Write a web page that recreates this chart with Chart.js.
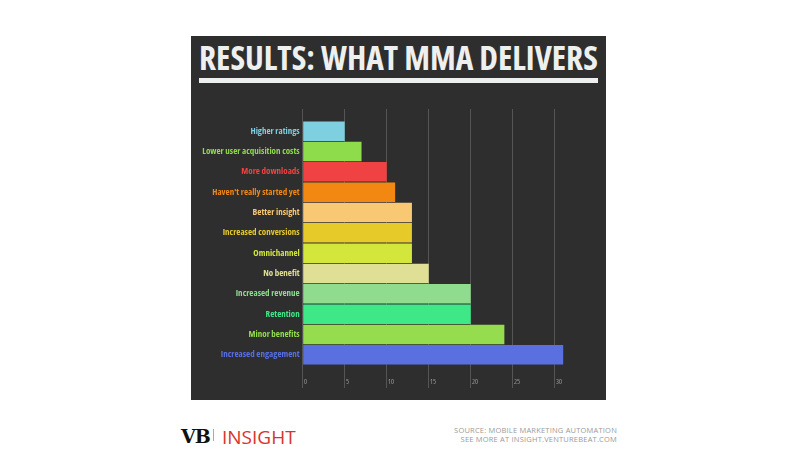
<!DOCTYPE html>
<html>
<head>
<meta charset="utf-8">
<script src="https://cdn.jsdelivr.net/npm/chart.js@4/dist/chart.umd.min.js"></script>
<style>
  body { margin: 0; background: #fff; width: 800px; height: 450px; position: relative; overflow: hidden; }
  #panel { position: absolute; left: 191px; top: 36px; width: 415px; height: 364px; background: #2e2e2e; }
  #title { position: absolute; left: 8px; top: -2px; white-space: nowrap; color: #eef0f0; line-height: 1;
    font: condensed bold 33.5px "DejaVu Sans", sans-serif; transform-origin: 0 0; }
  #rule { position: absolute; left: 8px; top: 42px; width: 399px; height: 5px; background: #eef0f0; }
  #wrap { position: absolute; left: 191px; top: 109px; width: 415px; height: 286px; }
  #vb { position: absolute; left: 181px; top: 425px; font: 900 19px "DejaVu Serif", serif; color: #111; letter-spacing: -1px; }
  #bar { position: absolute; left: 213px; top: 429px; width: 1px; height: 12px; background: #aaa; }
  #ins { position: absolute; left: 222px; top: 424px; font: 19px "Open Sans", sans-serif; color: #d8342c; }
  #src { position: absolute; right: 183px; top: 426px; text-align: right; color: #9a9a9a;
    font: 7.5px "Open Sans", sans-serif; line-height: 9px; letter-spacing: 0.2px; }
</style>
</head>
<body>
<div id="panel">
  <div id="title">RESULTS: WHAT MMA DELIVERS</div>
  <div id="rule"></div>
</div>
<div id="wrap"><canvas id="canvas1"></canvas></div>
<div id="vb">VB</div>
<div id="bar"></div>
<div id="ins">INSIGHT</div>
<div id="src">SOURCE: MOBILE MARKETING AUTOMATION<br>SEE MORE AT INSIGHT.VENTUREBEAT.COM</div>
<script>
var categories = [
  "Higher ratings",
  "Lower user acquisition costs",
  "More downloads",
  "Haven't really started yet",
  "Better insight",
  "Increased conversions",
  "Omnichannel",
  "No benefit",
  "Increased revenue",
  "Retention",
  "Minor benefits",
  "Increased engagement"
];
var values = [5, 7, 10, 11, 13, 13, 13, 15, 20, 20, 24, 31];
var colors = [
  "#7ecfe0", "#8edb4c", "#f04242", "#f28712", "#f8c873", "#e5ca2a",
  "#d3e63b", "#dfe096", "#8fdc8e", "#3fe887", "#95dc4e", "#5a6fe0"
];
var tickValues = [0, 5, 10, 15, 20, 25, 30];

// look for a family that really has a condensed width (variable fonts do)
var mctx = document.createElement('canvas').getContext('2d');
var sample = "Lower user acquisition costs";
var families = ['"Noto Sans"', '"Open Sans"', 'Roboto', '"DejaVu Sans"'];
var labelFamily = '"DejaVu Sans", sans-serif';
var labelWeight = 'bold condensed';
for (var i = 0; i < families.length; i++) {
  mctx.font = 'bold 10px ' + families[i];
  var wn = mctx.measureText(sample).width;
  mctx.font = 'bold condensed 10px ' + families[i];
  var wc = mctx.measureText(sample).width;
  if (wc < wn * 0.93) { labelFamily = families[i] + ', sans-serif'; break; }
}
// Chart.js rejects "condensed" as a style, so it rides along in the weight slot
mctx.font = labelWeight + ' 10px ' + labelFamily;
var w10 = mctx.measureText(sample).width;
var labelSize = Math.min(10.5, Math.floor(10 * 100 / w10 * 2) / 2);

var t = document.getElementById("title");
t.style.fontFamily = labelFamily;
t.style.transform = "scaleX(" + (399 / t.offsetWidth) + ")";

function keepTicks(scale) {
  scale.ticks = tickValues.map(function(v) { return { value: v }; });
}

window.onload = function() {
  var ctx = document.getElementById("canvas1").getContext("2d");
  window.myBar = new Chart(ctx, {
    type: 'bar',
    data: {
      labels: categories,
      datasets: [{
        data: values,
        backgroundColor: colors,
        borderWidth: 0,
        barPercentage: 0.96,
        categoryPercentage: 1
      }]
    },
    options: {
      indexAxis: 'y',
      responsive: true,
      maintainAspectRatio: false,
      animation: false,
      layout: { padding: { left: 0, right: 26, top: 0, bottom: 0 } },
      plugins: { legend: { display: false }, tooltip: { enabled: false } },
      scales: {
        y: {
          grid: { display: false, drawTicks: false },
          border: { display: false },
          afterFit: function(scale) { scale.width = 111.7; },
          ticks: {
            padding: 3,
            color: function(c) { return colors[c.index]; },
            font: { family: labelFamily, size: labelSize, weight: labelWeight }
          }
        },
        x: {
          min: 0,
          max: 33,
          afterBuildTicks: keepTicks,
          afterFit: function(scale) { scale.height = 30; },
          grid: { color: '#555', tickLength: 23, lineWidth: 1 },
          border: { display: false },
          ticks: {
            align: 'start',
            maxRotation: 0,
            padding: -10,
            color: '#9a9a9a',
            font: { family: labelFamily, size: 7, weight: 'condensed' },
            callback: function(v) { return ' ' + v; }
          }
        },
        x2: {
          position: 'top',
          min: 0,
          max: 33,
          afterBuildTicks: keepTicks,
          grid: { color: '#555', tickLength: 12, drawOnChartArea: false },
          border: { display: false },
          ticks: { display: false }
        }
      }
    }
  });
};
</script>
</body>
</html>
